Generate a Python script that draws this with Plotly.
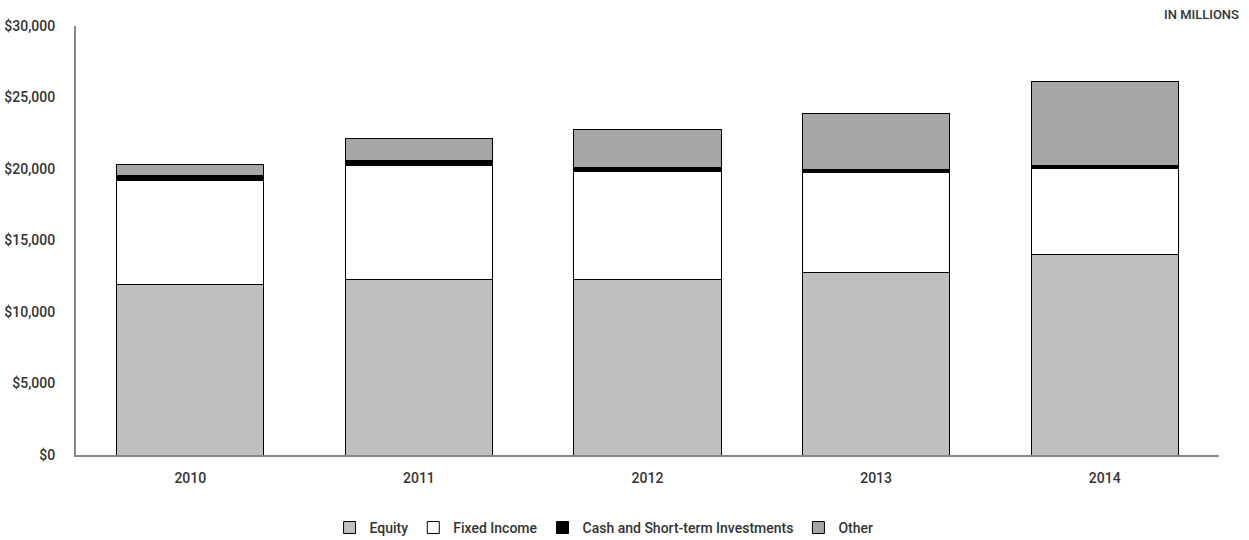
import plotly.graph_objects as go

# Asset allocation by year, in millions of dollars
years = ["2010", "2011", "2012", "2013", "2014"]
equity = [11900, 12240, 12260, 12750, 13990]
fixed_income = [7330, 7990, 7600, 6990, 6030]
cash_short_term = [320, 370, 280, 250, 200]
other = [800, 1500, 2610, 3860, 5930]

series_names = ["Equity", "Fixed Income", "Cash and Short-term Investments", "Other"]
series_colors = ["#bfbfbf", "#ffffff", "#000000", "#a6a6a6"]
y_ticks = [0, 5000, 10000, 15000, 20000, 25000, 30000]
y_tick_labels = ["${:,}".format(v) for v in y_ticks]

FONT = "Roboto, Liberation Sans, sans-serif"
TEXT = "#333333"
AXIS = "#878787"

fig = go.Figure()
for name, vals, color in zip(series_names,
                             [equity, fixed_income, cash_short_term, other],
                             series_colors):
    fig.add_trace(go.Bar(
        x=years, y=vals, name=name,
        marker=dict(color=color, line=dict(color="#000000", width=1)),
    ))

fig.update_layout(
    barmode="stack",
    bargap=0.356,
    width=1249, height=540,
    margin=dict(l=76, r=30, t=26, b=85),
    paper_bgcolor="#ffffff",
    plot_bgcolor="#ffffff",
    font=dict(family=FONT, size=14, color=TEXT),
    showlegend=True,
    legend=dict(
        orientation="h",
        x=0.462, xanchor="center",
        yref="container", y=0.052, yanchor="top",
        bgcolor="rgba(0,0,0,0)",
        font=dict(family=FONT, size=14, color=TEXT, weight=500),
        itemwidth=30,
        traceorder="normal",
    ),
    xaxis=dict(
        automargin=False,
        showline=True, linecolor=AXIS, linewidth=2,
        showgrid=False, zeroline=False,
        ticks="outside", ticklen=9, tickcolor="rgba(0,0,0,0)",
        tickfont=dict(family=FONT, size=14, color=TEXT, weight=500),
    ),
    yaxis=dict(
        automargin=False,
        range=[0, 30000],
        tickvals=y_ticks, ticktext=y_tick_labels,
        showline=True, linecolor=AXIS, linewidth=2,
        showgrid=False, zeroline=False,
        ticks="outside", ticklen=16, tickcolor="rgba(0,0,0,0)",
        tickfont=dict(family=FONT, size=14, color=TEXT, weight=500),
    ),
    annotations=[dict(
        text="IN MILLIONS",
        xref="paper", yref="paper",
        x=1.0, y=1.0, xanchor="right", yanchor="bottom",
        xshift=22, yshift=2,
        showarrow=False,
        font=dict(family=FONT, size=13, color=TEXT, weight=500),
    )],
)

fig.write_html("out.html")
